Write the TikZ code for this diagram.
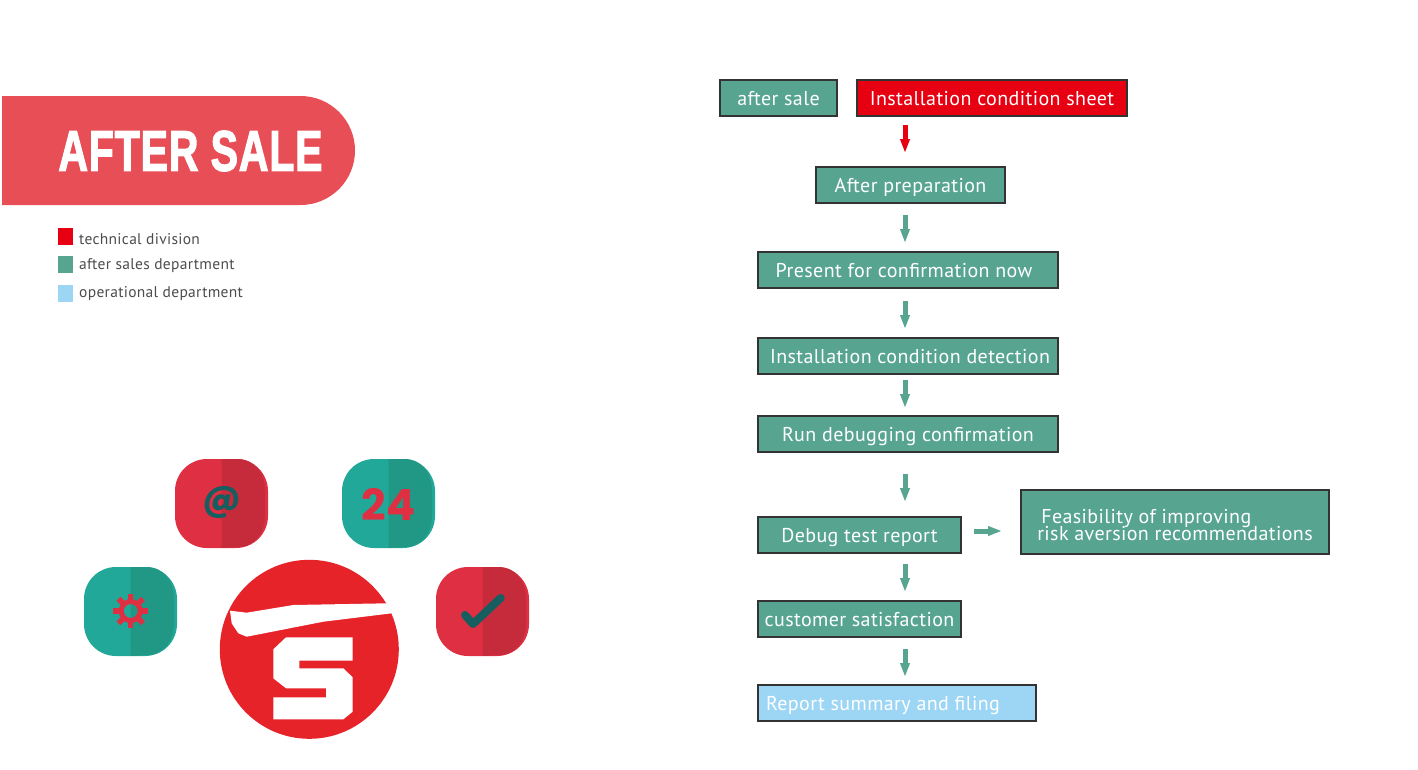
\documentclass[tikz,border=0pt]{standalone}
\usepackage{fontspec}
\usetikzlibrary{positioning,arrows.meta}
\newfontfamily\boxfont[LetterSpace=2.0]{PT Sans}
\newfontfamily\titlefont[BoldFeatures={FakeBold=2.5,LetterSpace=2}]{Liberation Sans}
\newfontfamily\iconfont{Poppins}
\definecolor{salegreen}{HTML}{57A591}
\definecolor{salered}{HTML}{E60012}
\definecolor{saleblue}{HTML}{9DD6F5}
\definecolor{bannerred}{HTML}{E84E56}
\definecolor{logored}{HTML}{E7232A}
\definecolor{iconred}{HTML}{DF2F42}
\definecolor{iconreddark}{HTML}{C62B3C}
\definecolor{iconteal}{HTML}{22A898}
\definecolor{icontealdark}{HTML}{219885}
\definecolor{icondark}{HTML}{165E5F}
\tikzset{
  flowbox/.style={draw=black!80,line width=1.1pt,fill=salegreen,text=white,
    minimum height=36pt,inner sep=0pt,outer sep=0pt,text height=15pt,text depth=0pt,
    font=\boxfont\fontsize{20}{17}\selectfont},
  flowarrow/.style={salegreen,line width=5pt,-{Triangle[length=14pt,width=9pt]}},
  keybox/.style={minimum width=15pt,minimum height=17pt,inner sep=0pt,outer sep=0pt},
  keytext/.style={text=black!70,inner sep=0pt,font=\boxfont\fontsize{15.5}{16}\selectfont}
}
% left x, top y, light colour, dark colour
\newcommand{\iconat}[4]{
  \fill[#3,rounded corners=32pt] (#1,#2) rectangle ++(93,89);
  \fill[#4] (#1+46.5,#2) -- (#1+62,#2) .. controls (#1+80,#2) and (#1+90,#2+14) .. (#1+90,#2+32)
    -- (#1+90,#2+56) .. controls (#1+90,#2+74) and (#1+80,#2+88) .. (#1+62,#2+88) -- (#1+46.5,#2+89) -- cycle;
}
\begin{document}
\begin{tikzpicture}[x=1pt,y=-1pt]
  \useasboundingbox (0,0) rectangle (1418,769);
  %% Banner
  \fill[bannerred] (2,96) -- (300.5,96) arc[start angle=90,end angle=-90,radius=54.5pt] -- (2,205) -- cycle;
  \node[text=white,inner sep=0pt,xscale=0.72,font=\titlefont\bfseries\fontsize{57}{57}\selectfont] (title) at (190.5,151) {AFTER SALE};
  %% Legend
  \node[keybox,fill=salered] (keytech) at (65.5,236.5) {};
  \node[keybox,fill=salegreen] (keysale) at (65.5,264.5) {};
  \node[keybox,fill=saleblue] (keyoper) at (65.5,293) {};
  \node[keytext,right=6pt of keytech,yshift=-2.5pt] (texttech) {technical division};
  \node[keytext,right=6pt of keysale,yshift=-1pt] (textsale) {after sales department};
  \node[keytext,right=6pt of keyoper,yshift=-1pt] (textoper) {operational department};
  %% Icons
  \iconat{175}{459}{iconred}{iconreddark}
  \iconat{342}{459}{iconteal}{icontealdark}
  \iconat{84}{567}{iconteal}{icontealdark}
  \iconat{436}{567}{iconred}{iconreddark}
  \node[text=icondark,inner sep=0pt,font=\iconfont\bfseries\fontsize{36}{36}\selectfont] (at) at (221.5,503) {@};
  \node[text=iconred,inner sep=0pt,font=\iconfont\bfseries\fontsize{43}{43}\selectfont] (hours) at (388.5,504) {24};
  \foreach \a in {0,45,...,315}
    \fill[iconred,rotate around={\a:(130.7,611)}] (128,593.7) rectangle (133.4,600);
  \draw[iconred,line width=5pt] (130.7,611) circle[radius=9.5pt];
  \draw[icondark,line width=8pt,line cap=round,line join=round] (465,615) -- (473,624) -- (500.7,598);
  %% Logo
  \fill[logored] (309.3,649.3) circle[radius=89.5pt];
  \fill[white] (230,610.7) -- (246.7,612.7) -- (293.3,605) -- (386.7,603.3) -- (391.7,613.3) -- (323.3,621.7)
    -- (246.7,636.7) -- (238.3,633.3) -- (231.7,623.3) -- cycle;
  \fill[white] (352.7,637.3) -- (286,637.3) -- (273.3,649.3) -- (273.3,678.3) -- (286,688.3) -- (326,688.3)
    -- (326,697.3) -- (273.3,697.3) -- (273.3,719.3) -- (343.3,719.3) -- (352.7,711.7) -- (352.7,677.3)
    -- (343.3,668.3) -- (299.3,668.3) -- (299.3,660.7) -- (352.7,660.7) -- cycle;
  %% Flow boxes
  \node[flowbox,minimum width=117pt] (sale) at (778.5,98) {after sale};
  \node[flowbox,fill=salered,minimum width=270pt] (sheet) at (992,98) {Installation condition sheet};
  \node[flowbox,minimum width=189pt] (prep) at (910.5,185) {After preparation};
  \node[flowbox,minimum width=300pt] (present) at (908,270) {Present for confirmation now\hspace*{8pt}};
  \node[flowbox,minimum width=300pt] (detect) at (908,356) {\hspace*{4pt}Installation condition detection};
  \node[flowbox,minimum width=300pt] (run) at (908,434) {Run debugging confirmation};
  \node[flowbox,minimum width=203pt] (report) at (859.5,535) {Debug test report};
  \node[flowbox,minimum width=308pt,minimum height=64pt,align=left,text height=38pt,text depth=2pt] (improve) at (1175,522)
    {\hspace*{4pt}Feasibility of improving\\[-3pt]risk aversion recommendations};
  \node[flowbox,minimum width=203pt] (satisf) at (859.5,619) {customer satisfaction};
  \node[flowbox,fill=saleblue,minimum width=278pt] (summary) at (897,703) {Report summary and filing\hspace*{28pt}};
  \coordinate (arrowx) at (905,0);
  %% Vertical arrows
  \draw[flowarrow,salered,shorten <=9pt,shorten >=14pt] (sheet.south -| arrowx) -- (prep.north -| arrowx);
  \draw[flowarrow,shorten <=12pt,shorten >=9pt] (prep.south -| arrowx) -- (present.north -| arrowx);
  \draw[flowarrow,shorten <=13pt,shorten >=9pt] (present.south -| arrowx) -- (detect.north -| arrowx);
  \draw[flowarrow,shorten <=6pt,shorten >=8pt] (detect.south -| arrowx) -- (run.north -| arrowx);
  \draw[flowarrow,shorten <=22pt,shorten >=15pt] (run.south -| arrowx) -- (report.north -| arrowx);
  \draw[flowarrow,shorten <=11pt,shorten >=9pt] (report.south -| arrowx) -- (satisf.north -| arrowx);
  \draw[flowarrow,shorten <=12pt,shorten >=8pt] (satisf.south -| arrowx) -- (summary.north -| arrowx);
  %% Horizontal arrow
  \draw[flowarrow,shorten <=13pt,shorten >=19pt] (report.east |- 0,531) -- (improve.west |- 0,531);
\end{tikzpicture}
\end{document}
